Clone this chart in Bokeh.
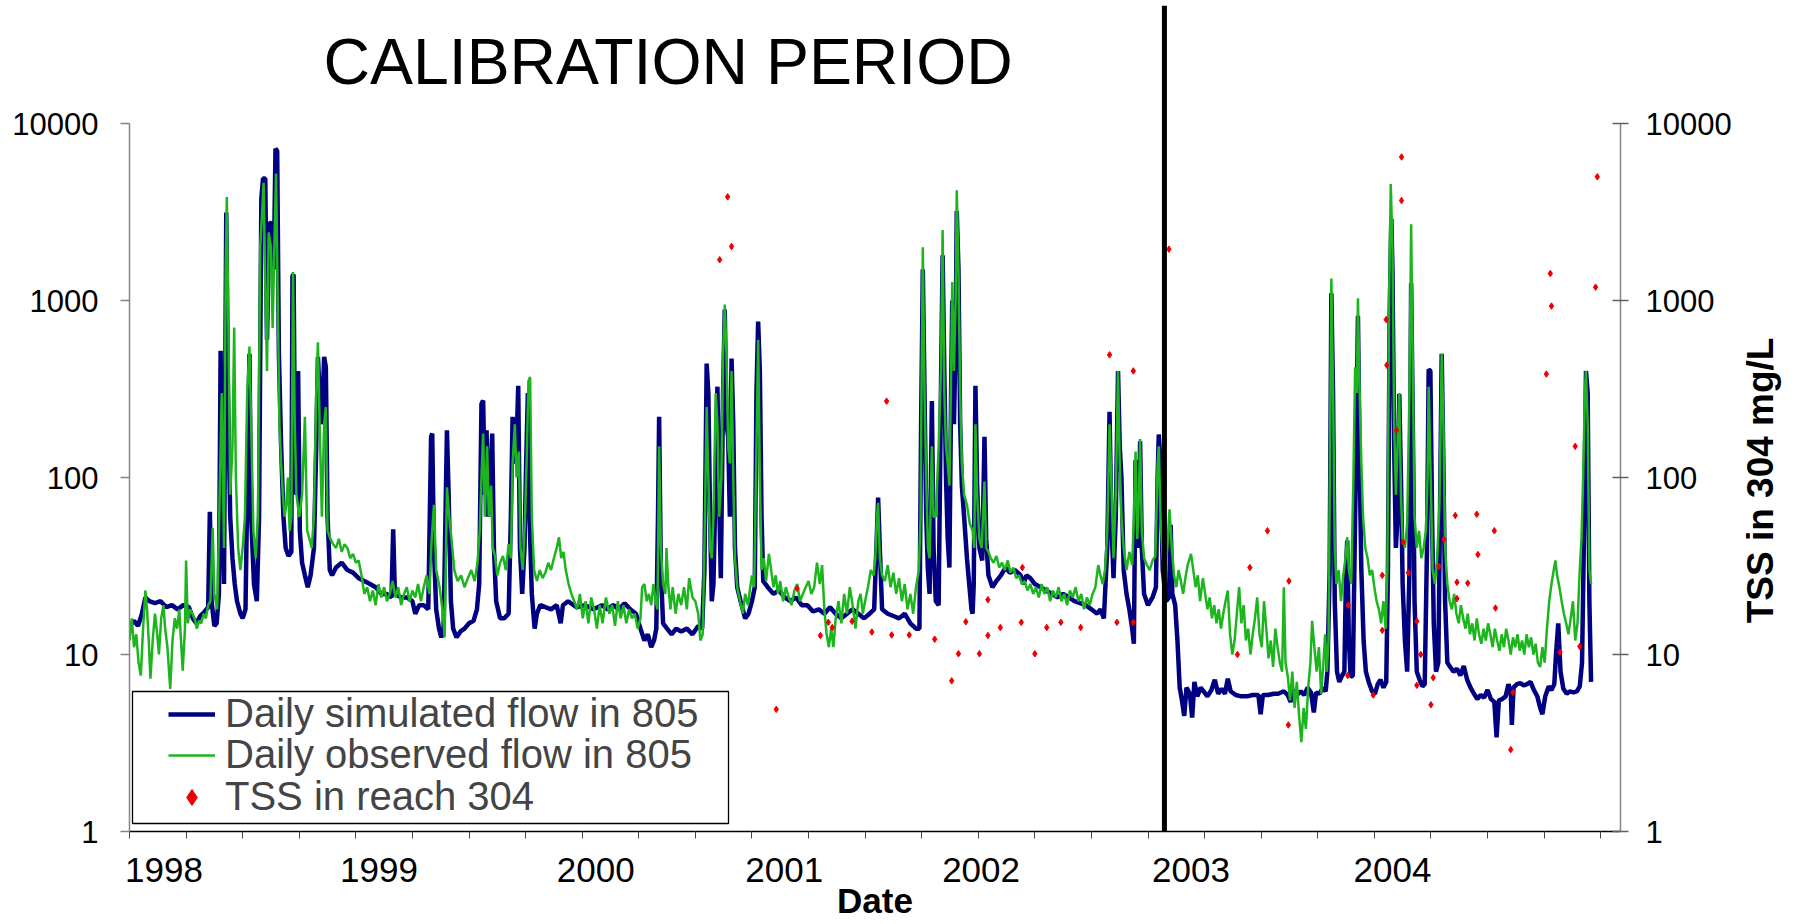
import math
from bokeh.plotting import figure
from bokeh.models import (Range1d, LogAxis, FixedTicker, PrintfTickFormatter, Legend,
                          LegendItem, BoxAnnotation, Label, Span)
from bokeh.embed import file_html
from bokeh.resources import INLINE

# ---------------- data (x = day on the chart's date axis, 0 = 1 Jan 1998) ----------------
sim_points = [
    (0, 14.5), (8, 15.5), (15, 14.5), (22, 17), (28, 21), (35, 20), (45, 19.5), (55, 20), (65, 18.5),
    (75, 19), (85, 18), (95, 19), (105, 18.5), (112, 16), (118, 15), (125, 16.5), (133, 17.5), (139, 18.5),
    (142, 64), (145, 20), (150, 14.5), (154, 15), (158, 22), (161, 520), (164, 60), (167, 25), (171, 3140),
    (174, 300), (178, 60), (182, 35), (186, 25), (190, 20), (196, 17), (200, 16), (205, 18), (209, 130),
    (212, 500), (215, 60), (220, 25), (225, 20), (229, 60), (233, 3770), (236, 4890), (240, 4890), (243, 600),
    (247, 2760), (252, 2700), (255, 1500), (258, 7200), (261, 7000), (264, 500), (268, 150), (272, 60),
    (276, 40), (281, 36), (286, 38), (288, 1380), (290, 1400), (293, 80), (298, 400), (301, 50), (305, 33),
    (310, 28), (315, 24), (320, 28), (326, 40), (330, 150), (333, 480), (336, 300), (340, 200), (344, 480),
    (347, 420), (350, 60), (354, 30), (358, 28), (365, 31), (375, 33), (385, 30), (395, 29), (405, 27),
    (415, 26), (425, 25), (435, 24), (445, 22), (455, 22), (463, 21), (466, 51), (469, 22), (480, 21),
    (490, 21), (500, 20), (505, 17), (512, 19), (520, 19), (528, 18), (533, 170), (535, 177), (538, 40),
    (542, 18), (547, 14), (551, 12.5), (555, 14), (558, 50), (561, 185), (564, 80), (568, 20), (572, 14),
    (578, 12.5), (585, 13.5), (592, 14), (600, 15), (608, 15.5), (614, 18), (618, 25), (622, 260), (625, 272),
    (628, 80), (631, 185), (634, 60), (638, 100), (641, 177), (644, 40), (648, 20), (655, 16), (662, 16),
    (670, 17), (674, 60), (677, 220), (680, 150), (683, 120), (687, 330), (690, 40), (694, 22), (698, 40),
    (701, 120), (704, 300), (707, 60), (711, 22), (716, 14), (720, 17), (726, 19), (735, 18.5), (745, 18),
    (755, 19), (762, 15), (766, 19), (775, 20), (790, 18.5), (805, 19), (820, 18), (835, 19), (845, 18),
    (855, 19), (865, 18), (875, 19.5), (885, 18), (895, 17), (903, 14), (910, 12), (916, 13), (922, 11),
    (927, 12), (931, 14), (934, 60), (936, 220), (939, 30), (943, 15), (950, 14), (958, 13), (966, 14),
    (975, 13.5), (985, 14), (995, 13), (1005, 14.5), (1012, 14), (1016, 30), (1020, 440), (1023, 300),
    (1026, 60), (1029, 20), (1032, 25), (1036, 100), (1039, 326), (1042, 80), (1045, 27), (1049, 300),
    (1052, 890), (1055, 200), (1058, 170), (1061, 60), (1064, 470), (1067, 200), (1070, 40), (1074, 24),
    (1080, 20), (1088, 16), (1094, 17), (1100, 20), (1105, 24), (1108, 300), (1111, 760), (1114, 400),
    (1117, 60), (1120, 26), (1128, 24), (1138, 22), (1148, 23), (1158, 21), (1168, 20), (1178, 21),
    (1188, 19), (1198, 19), (1208, 17.5), (1218, 18), (1228, 17), (1238, 18.5), (1248, 17), (1258, 16),
    (1268, 17), (1278, 18), (1288, 17), (1298, 16), (1308, 17), (1316, 18), (1320, 40), (1323, 77),
    (1326, 40), (1330, 18), (1340, 17), (1350, 16.5), (1360, 16), (1370, 17), (1380, 15), (1390, 14),
    (1396, 14), (1399, 200), (1402, 1500), (1405, 300), (1408, 60), (1411, 30), (1414, 22), (1418, 270),
    (1421, 40), (1425, 20), (1430, 19), (1434, 300), (1437, 1800), (1440, 400), (1443, 100), (1446, 45),
    (1449, 31), (1452, 300), (1454, 1000), (1457, 200), (1460, 600), (1462, 3200), (1465, 1500), (1468, 200),
    (1471, 90), (1475, 60), (1480, 35), (1484, 25), (1488, 18), (1490, 17), (1492, 25), (1495, 330),
    (1498, 90), (1502, 40), (1507, 34), (1511, 170), (1514, 45), (1518, 28), (1525, 24), (1532, 26),
    (1540, 28), (1548, 31), (1556, 29), (1565, 30), (1575, 28), (1580, 25), (1585, 28), (1592, 27),
    (1600, 25), (1610, 24), (1620, 23), (1630, 22), (1640, 21), (1650, 22), (1660, 21), (1670, 20),
    (1680, 19.5), (1690, 19), (1700, 18), (1710, 17), (1716, 18), (1722, 16), (1728, 40), (1732, 235),
    (1735, 60), (1739, 27), (1743, 60), (1747, 400), (1750, 150), (1753, 100), (1757, 30), (1762, 22),
    (1767, 18), (1772, 14), (1775, 11.5), (1778, 125), (1781, 40), (1784, 60), (1786, 160), (1789, 40),
    (1793, 22), (1800, 19), (1808, 21), (1814, 24), (1817, 100), (1819, 175), (1822, 120), (1826, 30),
    (1832, 20), (1837, 21), (1840, 54), (1843, 22), (1848, 19), (1852, 12), (1856, 6.5), (1860, 5.5),
    (1864, 4.5), (1868, 6.5), (1874, 6), (1878, 4.4), (1882, 7), (1887, 5.8), (1893, 6.5), (1898, 6.2),
    (1905, 5.8), (1912, 6.3), (1918, 7.2), (1924, 6), (1930, 6.4), (1936, 6.0), (1941, 7.3), (1946, 6.2),
    (1955, 5.9), (1965, 5.8), (1975, 5.8), (1985, 5.9), (1995, 5.9), (1999, 4.6), (2003, 5.9), (2012, 5.9),
    (2022, 6.0), (2030, 6.0), (2040, 6.2), (2047, 5.9), (2052, 5.4), (2057, 6.3), (2063, 5.9), (2070, 6.2),
    (2076, 5.9), (2082, 6.5), (2088, 6.1), (2093, 4.7), (2097, 6.1), (2103, 6.0), (2109, 6.5), (2114, 6.2),
    (2117, 8), (2121, 30), (2124, 1100), (2127, 300), (2130, 20), (2134, 8), (2138, 7), (2142, 7.5),
    (2147, 8), (2150, 30), (2152, 44), (2155, 12), (2158, 7.5), (2162, 7.6), (2166, 60), (2169, 250),
    (2171, 820), (2174, 120), (2177, 30), (2181, 12), (2185, 8), (2190, 7), (2196, 6.2), (2201, 6.0),
    (2206, 6.8), (2211, 7.2), (2216, 6.5), (2221, 7), (2224, 30), (2227, 800), (2230, 2900), (2232, 1500),
    (2235, 150), (2238, 40), (2241, 60), (2244, 296), (2247, 100), (2250, 25), (2254, 12), (2258, 8),
    (2262, 30), (2265, 1250), (2268, 200), (2271, 20), (2275, 8), (2280, 7.2), (2285, 6.6), (2289, 6.8),
    (2293, 40), (2296, 409), (2299, 400), (2302, 60), (2305, 15), (2309, 8), (2313, 9), (2316, 60),
    (2319, 500), (2322, 120), (2325, 20), (2329, 9), (2334, 8.5), (2340, 8.0), (2346, 8.3), (2352, 7.6),
    (2358, 8.6), (2364, 7.2), (2370, 6.5), (2376, 6.0), (2382, 5.6), (2388, 5.9), (2394, 5.7), (2400, 6.3),
    (2406, 5.6), (2412, 5.4), (2416, 3.4), (2420, 5.5), (2426, 5.6), (2432, 5.8), (2437, 6.8), (2441, 6.2),
    (2443, 4.0), (2446, 6.5), (2452, 6.8), (2458, 6.9), (2464, 6.7), (2470, 6.8), (2476, 7.0), (2482, 6.3),
    (2488, 5.8), (2493, 5.0), (2497, 4.6), (2502, 5.8), (2508, 6.6), (2513, 6.3), (2518, 6.8), (2521, 10),
    (2525, 15), (2529, 8), (2534, 6.4), (2540, 6.0), (2546, 6.2), (2552, 6.1), (2558, 6.2), (2563, 6.6),
    (2567, 9), (2571, 60), (2574, 400), (2577, 300), (2580, 20), (2583, 7),
]

obs_points = [
    (0, 12), (4, 16), (8, 11), (12, 13), (16, 9), (20, 7.6), (24, 14), (28, 23), (31, 18), (34, 12),
    (37, 7.3), (41, 12), (45, 17), (49, 13), (52, 10), (56, 16), (60, 19), (63, 14), (67, 11), (72, 6.4),
    (76, 12), (80, 16), (84, 14), (88, 18), (91, 12), (94, 8.1), (98, 14), (100, 34), (103, 15), (107, 18),
    (111, 17), (115, 16), (119, 14), (123, 15.5), (127, 15), (131, 17), (135, 16), (139, 19), (143, 20),
    (147, 52), (150, 22), (155, 18), (160, 100), (163, 300), (167, 40), (170, 1500), (172, 3840), (175, 600),
    (178, 80), (182, 150), (185, 703), (188, 100), (192, 40), (196, 30), (200, 40), (204, 60), (208, 300),
    (212, 550), (215, 200), (219, 50), (223, 35), (227, 60), (231, 2000), (234, 3000), (237, 4620),
    (240, 1200), (243, 400), (246, 2420), (250, 2000), (253, 700), (256, 2000), (259, 5220), (262, 1000),
    (265, 200), (268, 120), (271, 80), (274, 60), (277, 70), (280, 100), (283, 50), (286, 60), (289, 1450),
    (292, 200), (295, 80), (300, 60), (305, 80), (310, 220), (314, 50), (318, 45), (322, 40), (326, 60),
    (330, 300), (333, 580), (336, 200), (340, 60), (344, 200), (347, 250), (350, 50), (355, 45), (360, 42),
    (365, 40), (370, 45), (375, 38), (380, 42), (385, 40), (390, 35), (395, 37), (400, 33), (405, 34),
    (410, 28), (415, 22), (420, 24), (425, 20), (430, 23), (435, 19), (440, 25), (445, 21), (450, 24),
    (455, 20), (460, 22), (465, 26), (470, 21), (475, 24), (480, 19), (485, 22), (490, 24), (495, 20),
    (500, 23), (505, 21), (510, 25), (515, 20), (520, 24), (525, 28), (530, 22), (534, 45), (538, 70),
    (542, 30), (548, 24), (553, 18), (557, 12.5), (561, 88), (565, 60), (569, 45), (574, 30), (580, 26),
    (586, 28), (592, 24), (598, 27), (604, 30), (610, 26), (615, 33), (619, 50), (622, 100), (625, 177),
    (628, 60), (632, 150), (635, 60), (639, 90), (642, 40), (646, 36), (650, 28), (655, 33), (660, 36),
    (665, 30), (670, 42), (674, 35), (677, 120), (681, 200), (684, 100), (688, 140), (691, 40), (695, 30),
    (699, 60), (702, 130), (705, 350), (708, 370), (711, 60), (715, 30), (720, 26), (725, 30), (730, 27),
    (735, 29), (740, 33), (745, 30), (750, 35), (755, 40), (759, 46), (763, 35), (767, 38), (771, 30),
    (776, 25), (781, 22), (786, 20), (791, 18), (796, 22), (801, 16), (806, 20), (811, 15), (816, 21),
    (821, 18), (826, 14), (831, 19), (836, 15), (842, 21), (848, 17), (853, 19), (858, 14.5), (863, 20),
    (868, 16), (873, 19), (878, 15), (883, 18), (888, 16), (893, 17), (898, 14), (903, 16), (906, 24),
    (910, 25), (914, 20), (918, 22), (922, 19), (926, 25), (930, 20), (933, 18), (936, 150), (939, 40),
    (943, 25), (947, 22), (949, 40), (952, 25), (956, 18), (960, 24), (965, 17), (970, 22), (975, 19),
    (980, 24), (985, 18), (989, 27), (995, 21), (1000, 20), (1005, 17), (1009, 12), (1013, 13), (1017, 60),
    (1020, 250), (1023, 100), (1026, 40), (1029, 35), (1032, 60), (1036, 300), (1039, 200), (1042, 60),
    (1046, 100), (1049, 500), (1052, 948), (1055, 500), (1058, 150), (1061, 120), (1064, 400), (1067, 100),
    (1070, 35), (1074, 24), (1079, 20), (1084, 17), (1088, 22), (1093, 19), (1097, 24), (1100, 28),
    (1104, 24), (1108, 150), (1111, 600), (1114, 100), (1117, 30), (1121, 35), (1125, 26), (1130, 37),
    (1134, 30), (1138, 24), (1142, 28), (1146, 22), (1150, 26), (1155, 20), (1160, 24), (1165, 21),
    (1170, 19), (1175, 23), (1180, 25), (1185, 20), (1190, 22), (1195, 24), (1200, 26), (1205, 22),
    (1210, 24), (1215, 33), (1220, 25), (1224, 32), (1228, 18), (1232, 13), (1236, 11), (1240, 14),
    (1244, 11), (1248, 16), (1253, 20), (1258, 15), (1263, 22), (1268, 17), (1273, 24), (1278, 19),
    (1283, 14), (1288, 20), (1292, 22), (1296, 17), (1300, 20), (1305, 24), (1310, 30), (1315, 28),
    (1318, 35), (1321, 60), (1323, 72), (1326, 35), (1330, 28), (1335, 26), (1340, 32), (1345, 24),
    (1350, 29), (1355, 22), (1360, 27), (1365, 20), (1370, 25), (1375, 18), (1380, 22), (1385, 17),
    (1390, 24), (1395, 30), (1398, 60), (1400, 400), (1402, 2000), (1405, 300), (1408, 100), (1411, 40),
    (1414, 35), (1418, 150), (1421, 60), (1425, 60), (1430, 150), (1434, 400), (1437, 2500), (1440, 300),
    (1443, 150), (1446, 120), (1449, 90), (1452, 400), (1454, 1270), (1457, 400), (1460, 1000), (1462, 4200),
    (1465, 1500), (1468, 300), (1471, 120), (1475, 80), (1480, 70), (1485, 55), (1490, 50), (1493, 40),
    (1495, 200), (1498, 80), (1502, 45), (1506, 40), (1511, 95), (1514, 40), (1518, 38), (1522, 35),
    (1527, 33), (1532, 36), (1537, 31), (1542, 33), (1547, 30), (1552, 34), (1557, 29), (1562, 31),
    (1567, 27), (1572, 28), (1577, 25), (1582, 26), (1587, 23), (1592, 25), (1597, 22), (1602, 24),
    (1607, 21), (1612, 25), (1617, 22), (1622, 24), (1627, 20), (1632, 23), (1637, 21), (1642, 24),
    (1647, 20), (1652, 22), (1657, 19), (1662, 23), (1667, 21), (1672, 24), (1677, 20), (1682, 22),
    (1687, 18), (1692, 21), (1697, 19), (1702, 22), (1707, 24), (1712, 32), (1716, 28), (1720, 25),
    (1724, 30), (1728, 50), (1732, 200), (1735, 100), (1739, 35), (1743, 80), (1747, 400), (1750, 120),
    (1753, 60), (1757, 40), (1762, 30), (1767, 38), (1772, 32), (1775, 60), (1778, 140), (1781, 45),
    (1784, 80), (1786, 165), (1789, 50), (1793, 35), (1798, 32), (1803, 30), (1808, 34), (1813, 36),
    (1817, 120), (1819, 150), (1822, 60), (1826, 35), (1830, 28), (1834, 40), (1838, 66), (1842, 40),
    (1846, 28), (1850, 24), (1854, 30), (1858, 26), (1862, 22), (1866, 27), (1870, 32), (1876, 37),
    (1880, 30), (1884, 24), (1888, 28), (1892, 20), (1897, 27), (1901, 22), (1905, 18), (1909, 21),
    (1913, 16), (1917, 19), (1921, 15), (1925, 18), (1929, 14), (1933, 17), (1937, 20), (1941, 23),
    (1945, 13), (1949, 10), (1953, 12), (1957, 17), (1961, 24), (1965, 15), (1969, 19), (1973, 12),
    (1977, 14), (1981, 10), (1985, 13), (1989, 16), (1993, 21), (1997, 13), (2001, 11), (2005, 20),
    (2009, 14), (2013, 9.5), (2017, 12), (2021, 8.5), (2025, 14), (2029, 11), (2033, 9), (2037, 8),
    (2040, 24), (2043, 9), (2047, 7.5), (2051, 5.5), (2055, 8), (2059, 5), (2063, 7), (2067, 4.5),
    (2071, 3.2), (2075, 5), (2079, 3.8), (2083, 6.5), (2087, 9), (2090, 15.5), (2094, 11), (2098, 8),
    (2102, 11), (2106, 6), (2110, 9), (2113, 13), (2116, 8), (2119, 12), (2122, 200), (2124, 1330),
    (2127, 300), (2130, 40), (2133, 25), (2137, 30), (2141, 20), (2145, 28), (2149, 35), (2152, 46),
    (2155, 30), (2159, 25), (2163, 100), (2166, 420), (2169, 300), (2171, 1030), (2174, 300), (2177, 120),
    (2180, 60), (2184, 40), (2188, 35), (2192, 28), (2196, 30), (2200, 24), (2204, 20), (2208, 18),
    (2212, 15), (2216, 20), (2220, 14), (2223, 30), (2226, 1000), (2229, 4550), (2232, 2000), (2235, 200),
    (2238, 80), (2241, 150), (2244, 300), (2247, 80), (2250, 45), (2254, 40), (2258, 55), (2262, 300),
    (2265, 2700), (2268, 400), (2271, 60), (2275, 40), (2279, 50), (2283, 35), (2287, 40), (2291, 50),
    (2294, 100), (2296, 326), (2299, 120), (2303, 30), (2307, 25), (2311, 35), (2315, 70), (2319, 500),
    (2322, 200), (2325, 40), (2329, 25), (2333, 20), (2337, 18), (2341, 22), (2345, 17), (2349, 15),
    (2353, 19), (2357, 16), (2361, 14), (2365, 17), (2369, 13), (2373, 15), (2377, 12), (2381, 16),
    (2385, 13), (2389, 11.5), (2393, 14), (2397, 12), (2401, 15), (2405, 13), (2409, 11), (2413, 14),
    (2417, 12), (2421, 10.5), (2425, 13), (2429, 11), (2433, 14), (2437, 12), (2441, 10), (2445, 12.5),
    (2449, 11), (2453, 13), (2457, 10.5), (2461, 12), (2465, 10), (2469, 13), (2473, 11), (2477, 12.5),
    (2481, 10), (2485, 11.5), (2489, 9), (2493, 8.5), (2497, 11), (2501, 9), (2505, 14), (2509, 20),
    (2513, 25), (2517, 30), (2520, 34), (2523, 28), (2527, 24), (2531, 20), (2535, 17), (2539, 15),
    (2543, 13), (2547, 16), (2551, 20), (2555, 12), (2559, 15), (2563, 30), (2566, 45), (2569, 100),
    (2572, 300), (2574, 400), (2577, 200), (2580, 30), (2583, 25),
]

tss_points = [
    (1043, 1700), (1057, 3850), (1064, 2020), (1143, 4.9), (1180, 23.6), (1221, 12.8), (1235, 15.2),
    (1242, 14.2), (1277, 15.4), (1312, 13.4), (1338, 270), (1347, 12.9), (1378, 12.9), (1423, 12.2),
    (1453, 7.1), (1465, 10.1), (1478, 15.3), (1502, 10.1), (1517, 20.4), (1517, 12.8), (1539, 14.2),
    (1576, 15.2), (1578, 31), (1600, 10.1), (1621, 14.2), (1646, 15.2), (1681, 14.2), (1732, 493),
    (1745, 15.2), (1774, 400), (1774, 15.2), (1837, 1950), (1958, 10), (1980, 31), (2011, 50), (2048, 4.0),
    (2049, 26), (2153, 7.6), (2154, 19), (2198, 5.9), (2214, 13.7), (2214, 28), (2221, 780), (2222, 431),
    (2239, 185), (2248, 6470), (2248, 3670), (2251, 43), (2260, 29), (2275, 15.4), (2275, 6.7), (2282, 10),
    (2300, 5.2), (2304, 7.4), (2314, 31.5), (2323, 44.6), (2343, 61), (2346, 20.7), (2346, 25.6),
    (2365, 25.3), (2381, 62), (2383, 36.7), (2412, 50), (2414, 18.3), (2441, 2.9), (2445, 6.1), (2504, 384),
    (2511, 1420), (2513, 930), (2528, 10.3), (2555, 150), (2563, 11.1), (2591, 1190), (2594, 5000),
]

series_labels = ["Daily simulated flow in 805", "Daily observed flow in 805", "TSS in reach 304"]
year_labels = ["1998", "1999", "2000", "2001", "2002", "2003", "2004"]
year_label_day = [61, 441, 824, 1157, 1505, 1876, 2232]
x_tick_days = list(range(0, 2601, 100))
y_ticks = [1, 10, 100, 1000, 10000]
calibration_end_day = 1829
x_end_day = 2635
y_top = 10 ** (4 + 118 / 177)   # frame reaches above the 10000 tick so the period line can rise to the top
tss_title_start = 15            # right-axis title starts (bottom end) at this level

sim_day = [d for d, _ in sim_points]
sim_flow = [v for _, v in sim_points]
obs_day = [d for d, _ in obs_points]
obs_flow = [v for _, v in obs_points]
tss_day = [d for d, _ in tss_points]
tss_val = [v for _, v in tss_points]

FONT = "Liberation Sans"
AXIS_GRAY = "#858585"

p = figure(width=1805, height=924, output_backend="svg", toolbar_location=None,
           x_range=Range1d(0, x_end_day), y_range=Range1d(1, y_top), y_axis_type="log",
           min_border_left=129, min_border_right=185, min_border_top=5, min_border_bottom=93)
p.outline_line_color = None
p.xgrid.visible = False
p.ygrid.visible = False
p.background_fill_color = "white"
p.border_fill_color = "white"

# x axis
xa = p.xaxis[0]
xa.ticker = FixedTicker(ticks=year_label_day, minor_ticks=x_tick_days)
xa.major_label_overrides = {d: t for d, t in zip(year_label_day, year_labels)}
xa.major_tick_out = 0
xa.major_tick_in = 0
xa.minor_tick_out = 7
xa.minor_tick_in = 0
xa.minor_tick_line_color = "#444444"
xa.minor_tick_line_width = 1
xa.axis_line_color = "black"
xa.axis_line_width = 1.5
xa.major_label_text_font = FONT
xa.major_label_text_font_size = "35px"
xa.major_label_text_color = "black"
xa.major_label_standoff = 19
xa.axis_label = "Date"
xa.axis_label_text_font = FONT
xa.axis_label_text_font_size = "35px"
xa.axis_label_text_font_style = "bold"
xa.axis_label_text_color = "black"
xa.axis_label_standoff = -4

# left axis
ya = p.yaxis[0]
ya.bounds = (1, 10000)
ya.ticker = FixedTicker(ticks=y_ticks, minor_ticks=[])
ya.formatter = PrintfTickFormatter(format="%d")
ya.axis_line_color = AXIS_GRAY
ya.axis_line_width = 1.5
ya.major_tick_line_color = AXIS_GRAY
ya.major_tick_line_width = 1.5
ya.major_tick_out = 9
ya.major_tick_in = 0
ya.minor_tick_out = 0
ya.minor_tick_in = 0
ya.major_label_text_font = FONT
ya.major_label_text_font_size = "31px"
ya.major_label_text_color = "black"
ya.major_label_standoff = 22

# right axis (TSS)
ra = LogAxis(ticker=FixedTicker(ticks=y_ticks, minor_ticks=[]),
             formatter=PrintfTickFormatter(format="%d"), bounds=(1, 10000))
ra.axis_line_color = AXIS_GRAY
ra.axis_line_width = 1.5
ra.major_tick_line_color = "#606060"
ra.major_tick_line_width = 1.5
ra.major_tick_out = 8
ra.major_tick_in = 8
ra.minor_tick_out = 0
ra.minor_tick_in = 0
ra.major_label_text_font = FONT
ra.major_label_text_font_size = "31px"
ra.major_label_text_color = "black"
ra.major_label_standoff = 17
p.add_layout(ra, "right")

# right-axis title, written bottom-to-top
ta = LogAxis(ticker=FixedTicker(ticks=[tss_title_start], minor_ticks=[]), bounds=(1, 10000))
ta.major_label_overrides = {tss_title_start: "TSS in 304 mg/L"}
ta.major_label_orientation = math.pi / 2
ta.axis_line_color = None
ta.major_tick_line_color = None
ta.major_tick_out = 0
ta.major_tick_in = 0
ta.minor_tick_out = 0
ta.minor_tick_in = 0
ta.major_label_text_font = FONT
ta.major_label_text_font_size = "37px"
ta.major_label_text_font_style = "bold"
ta.major_label_text_color = "black"
ta.major_label_standoff = 26
p.add_layout(ta, "right")

# series
r_sim = p.line(sim_day, sim_flow, line_color="#000080", line_width=4.5)
r_obs = p.line(obs_day, obs_flow, line_color="#1DB51D", line_width=2.5)
r_tss = p.scatter(tss_day, tss_val, marker="diamond", size=6.5,
                  fill_color="#EE0000", line_color="#EE0000")

# calibration / validation boundary
p.add_layout(Span(location=calibration_end_day, dimension="height",
                  line_color="black", line_width=5))

# legend frame + one legend row per series
p.add_layout(BoxAnnotation(left=3, right=599, bottom=8, top=140,
                           left_units="screen", right_units="screen",
                           bottom_units="screen", top_units="screen",
                           fill_color="white", fill_alpha=1,
                           line_color="black", line_alpha=1, line_width=1.3))
for label, renderer, row_y in zip(series_labels, [r_sim, r_obs, r_tss], [95, 54, 12]):
    p.add_layout(Legend(items=[LegendItem(label=label, renderers=[renderer])],
                        location=(39, row_y), label_text_font=FONT, label_text_font_size="40px",
                        glyph_width=47, glyph_height=40, label_height=40, label_standoff=10,
                        padding=0, spacing=0, margin=0, border_line_color=None,
                        background_fill_alpha=0))

# title inside the (extended) frame
p.add_layout(Label(x=194, y=770, x_units="screen", y_units="screen", text="CALIBRATION PERIOD",
                   text_font=FONT, text_font_size="64.4px", text_align="left",
                   text_baseline="alphabetic", text_color="black"))

open("out.html", "w").write(file_html(p, INLINE))
